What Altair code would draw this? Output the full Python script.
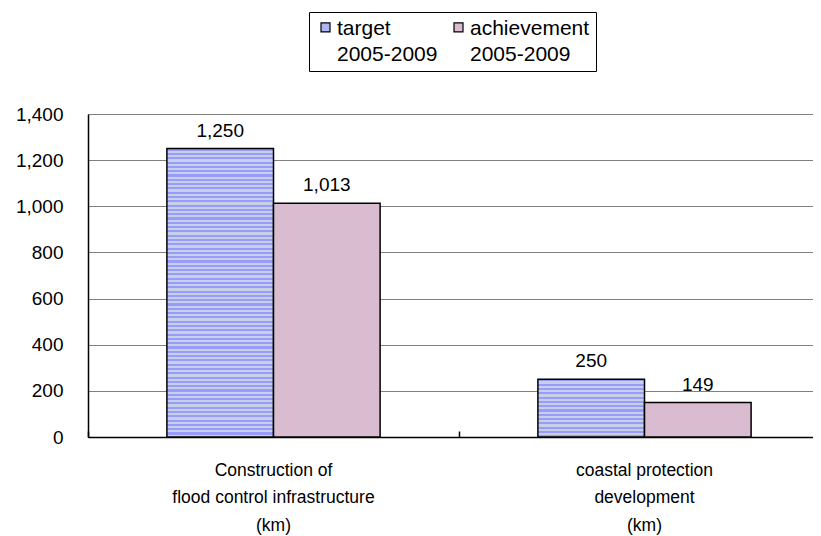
import altair as alt
import pandas as pd

categories = ["Construction of\nflood control infrastructure\n(km)", "coastal protection\ndevelopment\n(km)"]
series = ["target\n2005-2009", "achievement\n2005-2009"]
target = [1250, 250]
achievement = [1013, 149]
y_ticks = [0, 200, 400, 600, 800, 1000, 1200, 1400]
colors = ["#AFB5F2", "#D9BCCF"]
stripe_colors = ["#9A9CFC", "#C6D0E6"]

rows = []
for i, c in enumerate(categories):
    for j, (s, vals) in enumerate(zip(series, [target, achievement])):
        rows.append({"category": c, "series": s, "sidx": j, "cidx": i,
                     "value": vals[i], "label": f"{vals[i]:,}"})
df = pd.DataFrame(rows)

PLOT_H = 323
Y_MAX = 1400
NUM_FONT = "Liberation Sans"


def stripes(bar_value, period=4.3):
    """Horizontal stripe fill for a bar of the given value (gradient in bar units)."""
    h = PLOT_H * bar_value / Y_MAX
    f = period / h
    stops = []
    k = 0
    while k * f < 1:
        a, b, c = k * f, min((k + 0.5) * f, 1), min((k + 1) * f, 1)
        stops += [{"offset": a, "color": stripe_colors[0]}, {"offset": b, "color": stripe_colors[0]},
                  {"offset": b, "color": stripe_colors[1]}, {"offset": c, "color": stripe_colors[1]}]
        k += 1
    return {"gradient": "linear", "x1": 0, "y1": 0, "x2": 0, "y2": 1, "stops": stops}


fill_conditions = [
    {"test": f"datum.sidx === 0 && datum.cidx === {i}", "value": stripes(v)}
    for i, v in enumerate(target)
]

x_scale = alt.Scale(range=[0, 742], paddingInner=0, paddingOuter=0)
x_enc = alt.X(
    "category:N", sort=categories, scale=x_scale,
    axis=alt.Axis(title=None, labelAngle=0, labelExpr="split(datum.label, '\\n')",
                  labelFont=NUM_FONT, labelFontSize=17.5, labelLineHeight=27.5, labelLimit=500,
                  labelColor="black", labelPadding=24, labelBaseline="top",
                  ticks=False, domain=True, domainColor="black", domainWidth=1.5,
                  grid=False),
)
xoff = alt.XOffset("series:N", sort=series, scale=alt.Scale(paddingOuter=0.74, paddingInner=0))
y_enc = alt.Y(
    "value:Q", scale=alt.Scale(domain=[0, Y_MAX], nice=False),
    axis=alt.Axis(title=None, values=y_ticks, format=",.0f", grid=True, gridColor="#808080",
                  gridWidth=1, ticks=False, domain=True, domainColor="black", domainWidth=1.5,
                  labelFont=NUM_FONT, labelFontSize=19, labelColor="black", labelPadding=25),
)

bars = alt.Chart(df).mark_bar(stroke="black", strokeWidth=1.5).encode(
    x=x_enc,
    xOffset=xoff,
    y=y_enc,
    fill=alt.Fill(
        "series:N", sort=series,
        scale=alt.Scale(domain=series, range=colors),
        condition=fill_conditions,
        legend=alt.Legend(
            title=None, orient="none", legendX=221, legendY=-102,
            direction="horizontal", columns=2,
            labelExpr="split(datum.label, '\\n')", labelBaseline="middle",
            labelFont=NUM_FONT, labelFontSize=21, labelColor="black", labelOffset=1,
            symbolType="M-1,-1.3H1V0.7H-1Z", symbolSize=81,
            symbolStrokeColor="black", symbolStrokeWidth=1.2, symbolOpacity=1,
            padding=6, strokeColor="black", fillColor="white", columnPadding=10,
        ),
    ),
)

texts = alt.Chart(df).mark_text(
    font=NUM_FONT, fontSize=19, color="black", baseline="alphabetic", dy=-12
).encode(
    x=alt.X("category:N", sort=categories, scale=x_scale,
            axis=alt.Axis(orient="top", offset=-PLOT_H, labels=False, domain=False,
                          ticks=True, tickBand="extent", tickSize=6, tickColor="black",
                          tickWidth=1.5, title=None, grid=False)),
    xOffset=xoff,
    y=y_enc,
    text="label:N",
)

chart = alt.layer(bars, texts).resolve_axis(x="independent").properties(
    width=725, height=PLOT_H,
    autosize=alt.AutoSizeParams(type="none"),
    padding={"left": 80, "top": 106, "right": 0, "bottom": 99},
).configure_view(stroke="#404040", strokeWidth=1.5).configure(
    background="white", style={"guide-label": {"lineHeight": 26}}
)

chart.save("out.html", embed_options={"renderer": "svg", "actions": False})
